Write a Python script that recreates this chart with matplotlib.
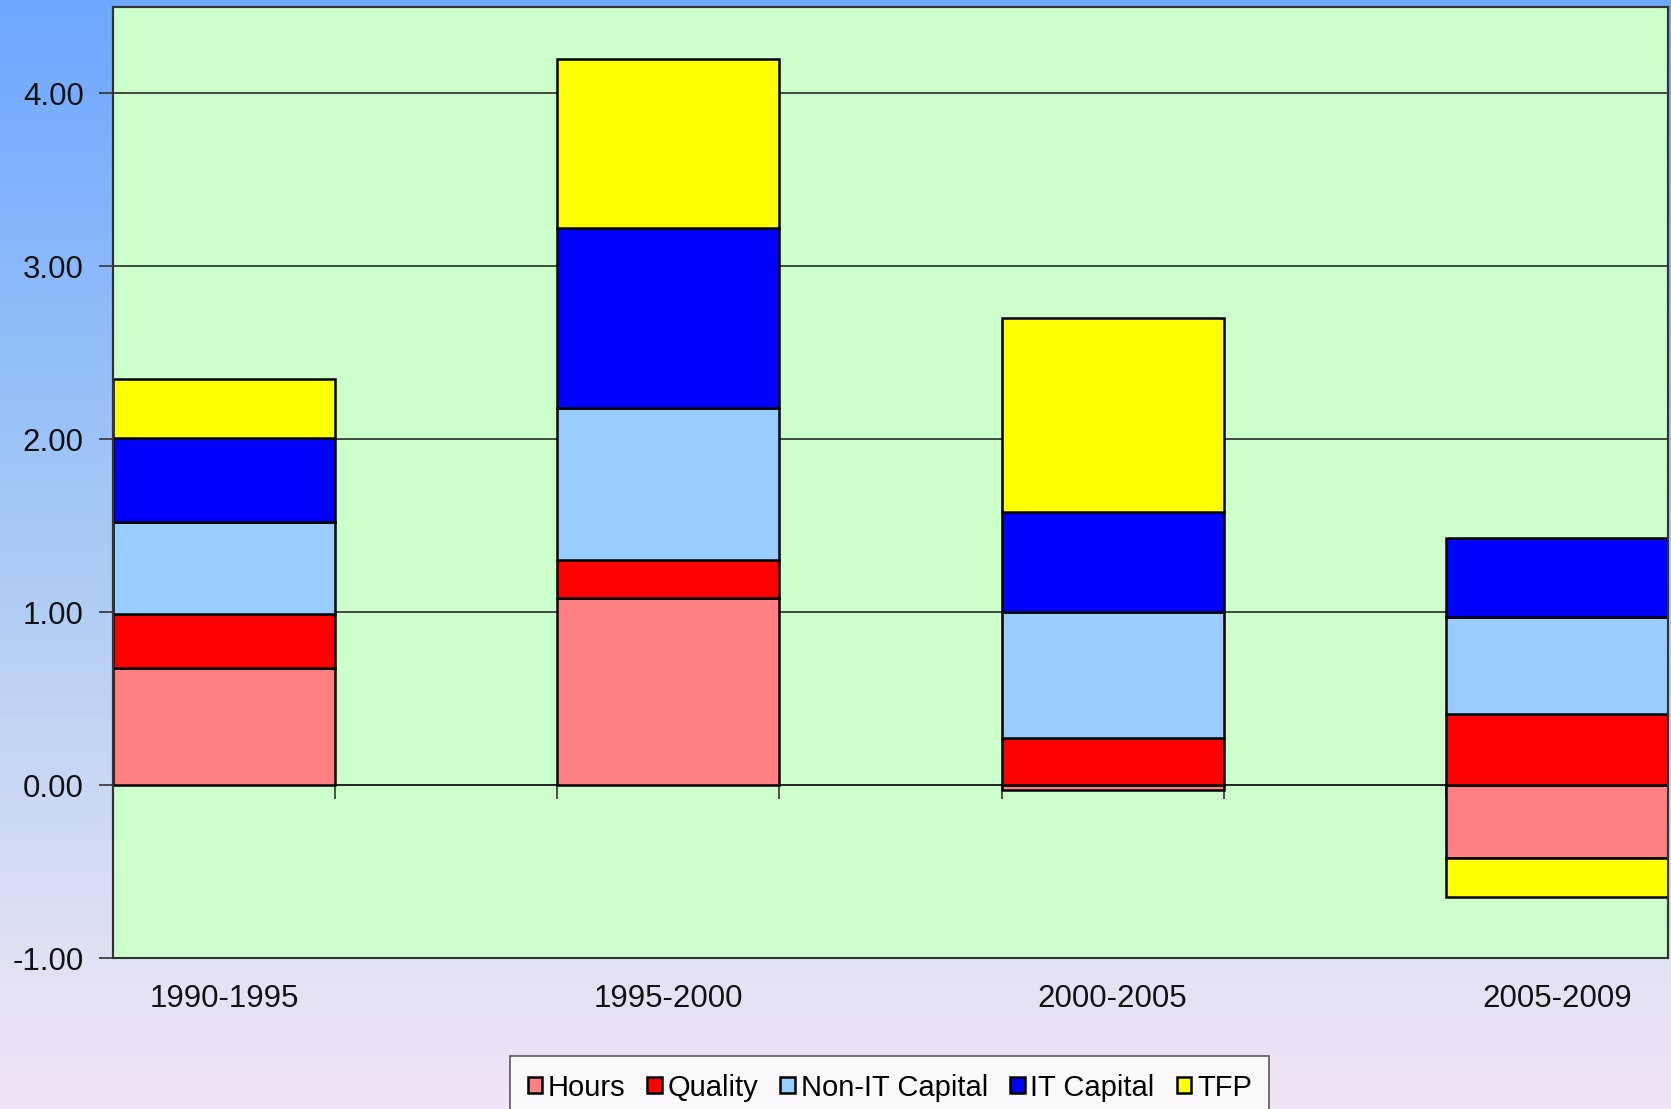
import numpy as np
import matplotlib
matplotlib.use("Agg")
import matplotlib.pyplot as plt
from matplotlib.patches import Rectangle, Patch
from matplotlib.colors import LinearSegmentedColormap

plt.rcParams['font.family'] = ['Liberation Sans', 'DejaVu Sans']

categories = ["1990-1995", "1995-2000", "2000-2005", "2005-2009"]
series_names = ["Hours", "Quality", "Non-IT Capital", "IT Capital", "TFP"]
hours = [0.68, 1.08, -0.03, -0.42]
quality = [0.31, 0.22, 0.27, 0.41]
non_it = [0.53, 0.88, 0.73, 0.56]
it_cap = [0.49, 1.04, 0.58, 0.46]
tfp = [0.34, 0.98, 1.12, -0.23]
colors = ["#FF8080", "#FF0000", "#99CCFF", "#0000FF", "#FFFF00"]
yticks = [-1.0, 0.0, 1.0, 2.0, 3.0, 4.0]

W, H = 1671, 1109
fig = plt.figure(figsize=(W / 100, H / 100), dpi=100)

# background gradient
bg = fig.add_axes([0, 0, 1, 1], zorder=-10)
cmap = LinearSegmentedColormap.from_list(
    "bg", [(0.0, "#6EA7FF"), (0.5, "#A9CBF5"), (0.88, "#E3E2F4"), (1.0, "#F1E4F6")])
grad = np.linspace(0, 1, 256).reshape(-1, 1)
bg.imshow(grad, aspect="auto", cmap=cmap, extent=[0, 1, 0, 1], origin="upper")
bg.set_axis_off()

left, right = 113 / W, 1668 / W
bottom, top = 1 - 958 / H, 1 - 7 / H
ax = fig.add_axes([left, bottom, right - left, top - bottom])
ax.set_facecolor("#CCFFCC")

x = np.arange(len(categories))
width = 0.5
data = [hours, quality, non_it, it_cap, tfp]
pos_base = np.zeros(len(categories))
neg_base = np.zeros(len(categories))
for name, vals, col in zip(series_names, data, colors):
    vals = np.array(vals)
    base = np.where(vals >= 0, pos_base, neg_base)
    ax.bar(x, vals, width, bottom=base, color=col, edgecolor="black",
           linewidth=1.8, label=name, zorder=3)
    pos_base = pos_base + np.where(vals >= 0, vals, 0)
    neg_base = neg_base + np.where(vals < 0, vals, 0)

ax.set_xlim(-0.25, len(categories) - 0.75)
ax.set_ylim(-1.0, 4.5)
ax.set_yticks(yticks)
ax.set_yticklabels([f"{v:.2f}" for v in yticks], fontsize=22.5, color="#111111")
ax.tick_params(axis="y", length=10, width=1.2, color="#333333", pad=11)
ax.yaxis.grid(True, color="#1a1a1a", linewidth=1.1, zorder=1)
ax.set_axisbelow(True)

# x axis at zero with minor ticks at bar edges
ax.spines["bottom"].set_position(("data", 0))
ax.spines["bottom"].set_color("#1a1a1a")
ax.spines["bottom"].set_linewidth(1.1)
ax.spines["bottom"].set_zorder(2)
edges = np.sort(np.concatenate([x - width / 2, x + width / 2]))
ax.set_xticks([])
ax.set_xticks(edges[1:-1], minor=True)
ax.tick_params(axis="x", which="minor", length=10, width=1.2, color="#333333",
               direction="out", labelbottom=False)
for s in ["top", "right", "left"]:
    ax.spines[s].set_color("#333333")
    ax.spines[s].set_linewidth(1.5)
ax.add_patch(Rectangle((0, 0), 1, 1, transform=ax.transAxes, fill=False,
                       edgecolor="#333333", linewidth=1.5, zorder=5, clip_on=False))

sec = ax.secondary_xaxis(0)
sec.set_xticks(x)
sec.set_xticklabels(categories, fontsize=22.5, color="#111111")
sec.tick_params(length=0, pad=19)
sec.spines["bottom"].set_visible(False)

handles = [Patch(facecolor=c, edgecolor="black", linewidth=1.8) for c in colors]
leg = fig.legend(handles, series_names, loc="upper left",
                 bbox_to_anchor=(510 / W, 1 - 1056 / H), borderaxespad=0,
                 ncol=5, fontsize=21,
                 frameon=True, fancybox=False, handlelength=0.5, handleheight=0.5,
                 handletextpad=0.2, columnspacing=0.75, borderpad=0.6)
leg.get_frame().set_edgecolor("#333333")
leg.get_frame().set_linewidth(1.2)
leg.get_frame().set_facecolor("white")

fig.savefig("out.png", dpi=100)
